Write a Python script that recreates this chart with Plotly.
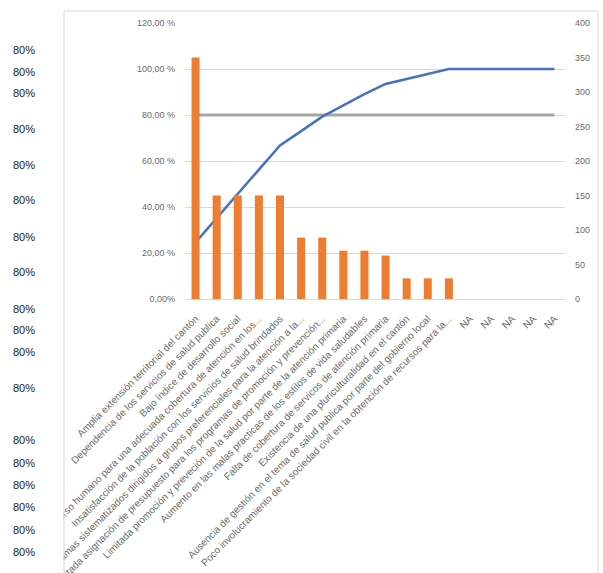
import plotly.graph_objects as go

categories = [
    "Amplia extensión territorial del cantón",
    "Dependencia de los servicios de salud publica",
    "Bajo índice de desarrollo social",
    "Falta de recurso humano para una adecuada cobertura de atención en los...",
    "Insatisfacción de la población con los servicios de salud brindados",
    "Falta de programas sistematizados dirigidos a grupos preferenciales para la atención a la...",
    "Limitada asignación de presupuesto para los programas de promoción y prevención...",
    "Limitada promoción y preveción de la salud por parte de la atención primaria",
    "Aumento en las malas practicas de los estilos de vida saludables",
    "Falta de cobertura de servicos de atención primaria",
    "Existencia de una pluriculturalidad en el cantón",
    "Ausencia de gestión en el tema de salud publica por parte del gobierno local",
    "Poco involucramiento de la sociedad civil en la obtención de recursos para la...",
    "NA", "NA", "NA", "NA", "NA",
]
frequency = [350, 150, 150, 150, 150, 89, 89, 70, 70, 63, 30, 30, 30,
             None, None, None, None, None]
cumulative_pct = [0.246, 0.352, 0.457, 0.562, 0.668, 0.730, 0.793, 0.842,
                  0.891, 0.935, 0.956, 0.978, 1.0, 1.0, 1.0, 1.0, 1.0, 1.0]
threshold = [0.80] * 18
left_ticks = [0, 0.2, 0.4, 0.6, 0.8, 1.0, 1.2]
left_tick_text = ["0,00%", "20,00 %", "40,00 %", "60,00 %", "80,00 %", "100,00 %", "120,00 %"]
right_ticks = [0, 50, 100, 150, 200, 250, 300, 350, 400]
stray_label = "80%"
stray_label_y_px = [50, 72, 93, 129, 165, 200, 237, 272, 309, 330, 352, 388,
                    440, 463, 485, 507, 530, 552]

W, H = 603, 573
ML, MR, MT, MB = 185, 38, 23, 274
PW = W - ML - MR
PH = H - MT - MB


def px_x(p):
    return (p - ML) / PW


def px_y(p):
    return (H - MB - p) / PH


idx = list(range(len(categories)))
FONT = "Liberation Sans"
TICKCOL = "#6b6b6b"

fig = go.Figure()
fig.add_trace(go.Bar(x=idx, y=frequency, yaxis="y2", marker_color="#ED7D31",
                     marker_line_width=0, name="Frecuencia"))
fig.add_trace(go.Scatter(x=idx, y=threshold, mode="lines",
                         line=dict(color="#A5A5A5", width=3), name="80%"))
fig.add_trace(go.Scatter(x=idx, y=cumulative_pct, mode="lines",
                         line=dict(color="#4472C4", width=2.5), name="% acumulado"))

shapes = [
    dict(type="rect", xref="paper", yref="paper", x0=px_x(-5), x1=px_x(63.5),
         y0=px_y(600), y1=px_y(300), fillcolor="white", line_width=0, layer="above"),
    dict(type="rect", xref="paper", yref="paper", x0=px_x(64), x1=px_x(598),
         y0=px_y(600), y1=px_y(11), fillcolor="rgba(0,0,0,0)",
         line=dict(color="#D9D9D9", width=1), layer="above"),
]
annotations = [
    dict(xref="paper", yref="paper", x=px_x(24), y=px_y(yy), text=stray_label,
         showarrow=False, xanchor="center", yanchor="middle",
         font=dict(family=FONT, size=11, color="#222222"))
    for yy in stray_label_y_px
]

fig.update_layout(
    width=W, height=H,
    margin=dict(l=ML, r=MR, t=MT, b=MB, pad=0, autoexpand=False),
    paper_bgcolor="white", plot_bgcolor="white",
    showlegend=False,
    bargap=0.62,
    font=dict(family=FONT, size=9, color=TICKCOL),
    xaxis=dict(
        tickmode="array", tickvals=idx, ticktext=categories, tickangle=-45,
        range=[-0.5, len(categories) - 0.5], automargin=False,
        showgrid=False, zeroline=False, showline=True, linecolor="#D9D9D9",
        ticks="", ticklabelstandoff=9, ticklabeloverflow="allow",
        tickfont=dict(family=FONT, size=10, color=TICKCOL),
    ),
    yaxis=dict(
        range=[0, 1.2], tickmode="array", tickvals=left_ticks, ticktext=left_tick_text,
        showgrid=True, gridcolor="#D9D9D9", gridwidth=1, zeroline=False,
        ticks="", ticklabelstandoff=9, automargin=False,
        tickfont=dict(family=FONT, size=9, color=TICKCOL),
    ),
    yaxis2=dict(
        range=[0, 400], tickmode="array", tickvals=right_ticks,
        overlaying="y", side="right", showgrid=False, zeroline=False,
        ticks="", ticklabelstandoff=9, automargin=False,
        tickfont=dict(family=FONT, size=9, color=TICKCOL),
    ),
    shapes=shapes,
    annotations=annotations,
)

fig.write_html(
    "out.html",
    config={"responsive": False, "displayModeBar": False},
    post_script="document.body.style.margin='0';document.body.style.overflow='hidden';",
)
